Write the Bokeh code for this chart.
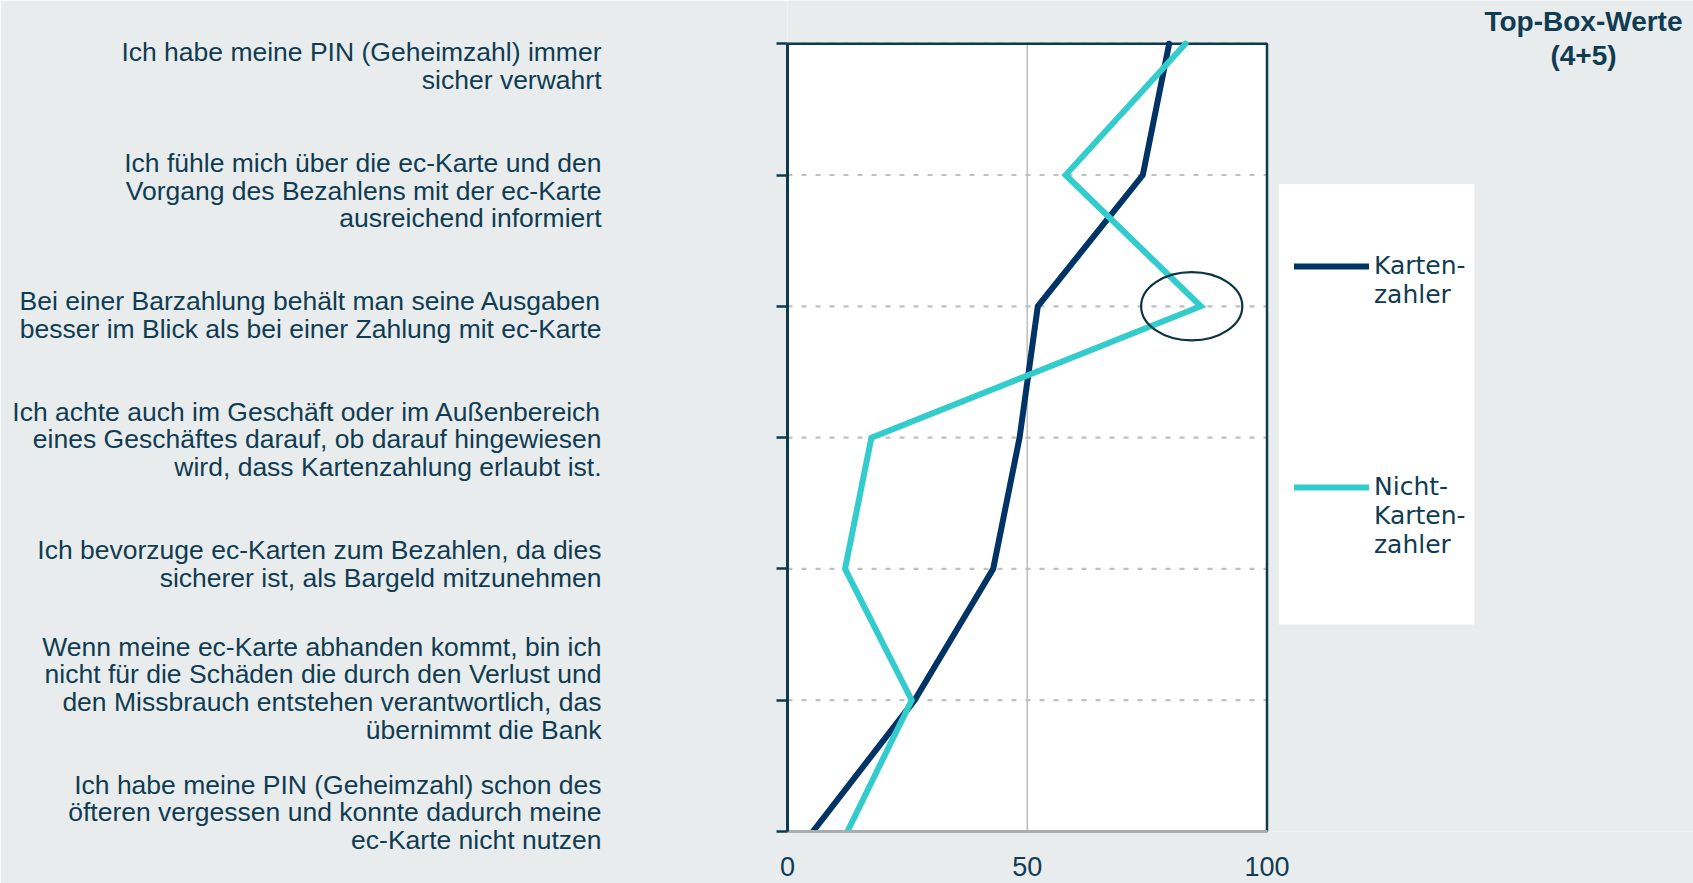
from bokeh.plotting import figure
from bokeh.models import (Range1d, FixedTicker, LinearAxis, Legend, LegendItem,
                          Label, BoxAnnotation)
from bokeh.embed import file_html
from bokeh.resources import INLINE

# ---------------- data ----------------
categories = [
    "Ich habe meine PIN (Geheimzahl) immer\nsicher verwahrt",
    "Ich fühle mich über die ec-Karte und den\nVorgang des Bezahlens mit der ec-Karte\nausreichend informiert",
    "Bei einer Barzahlung behält man seine Ausgaben\nbesser im Blick als bei einer Zahlung mit ec-Karte",
    "Ich achte auch im Geschäft oder im Außenbereich\neines Geschäftes darauf, ob darauf hingewiesen\nwird, dass Kartenzahlung erlaubt ist.",
    "Ich bevorzuge ec-Karten zum Bezahlen, da dies\nsicherer ist, als Bargeld mitzunehmen",
    "Wenn meine ec-Karte abhanden kommt, bin ich\nnicht für die Schäden die durch den Verlust und\nden Missbrauch entstehen verantwortlich, das\nübernimmt die Bank",
    "Ich habe meine PIN (Geheimzahl) schon des\nöfteren vergessen und konnte dadurch meine\nec-Karte nicht nutzen",
]
kartenzahler = [79.6, 74.1, 52.2, 48.4, 42.9, 26.5, 5.3]
nicht_kartenzahler = [83.0, 58.0, 86.2, 17.5, 12.0, 25.9, 12.5]
series_names = ["Karten-\nzahler", "Nicht-\nKarten-\nzahler"]
x_ticks = [0, 50, 100]
title_text = "Top-Box-Werte\n(4+5)"

# ---------------- style ----------------
BG = "#e9eced"
TEXT = "#0f3c52"
DARK = "#003366"
CYAN = "#33cccc"
AXIS = "#0d3a4d"
GRID = "#c0c0c0"

n = len(categories)
ypos = [n - 1 - i for i in range(n)]
xmin, xmax = x_ticks[0], x_ticks[-1]

W, H = 1693, 883
ML, MB = 787, 52
# frame extends to the right/top edges so that legend and title can live inside it
p = figure(width=W, height=H,
           x_range=Range1d(0, 100 * (W - ML) / 479.5),
           y_range=Range1d(0, (n - 1) * (H - MB) / 787.8),
           output_backend="svg", toolbar_location=None,
           min_border_left=ML, min_border_right=0,
           min_border_top=0, min_border_bottom=MB)
p.background_fill_color = BG
p.border_fill_color = BG
p.outline_line_color = None
p.xgrid.visible = False
p.ygrid.visible = False

# white plot area
p.add_layout(BoxAnnotation(left=xmin, right=xmax, bottom=0, top=n - 1,
                           fill_color="white", fill_alpha=1.0, line_color=None,
                           level="image"))

# grid lines
g1 = p.segment(x0=[xmin] * n, x1=[xmax] * n, y0=ypos, y1=ypos,
               line_color=GRID, line_width=2.2, line_dash="5 9")
g2 = p.segment(x0=[x_ticks[1]], x1=[x_ticks[1]], y0=[0], y1=[n - 1],
               line_color=GRID, line_width=1.6)
g1.level = "underlay"
g2.level = "underlay"

# plot area border (top / right / left); the bottom edge is covered by the x axis
p.add_layout(BoxAnnotation(left=xmin, right=xmax, bottom=0, top=n - 1,
                           fill_alpha=0, line_color=AXIS, line_alpha=1.0,
                           line_width=2.5, level="underlay"))

# x axis
xa = p.xaxis[0]
xa.ticker = FixedTicker(ticks=x_ticks)
xa.bounds = (xmin, xmax)
xa.axis_line_color = "#a9adb0"
xa.axis_line_width = 3
xa.major_tick_line_color = None
xa.minor_tick_line_color = None
xa.major_tick_in = 0
xa.major_tick_out = 0
xa.major_label_standoff = 25
xa.major_label_text_font = "Liberation Sans"
xa.major_label_text_font_size = "27px"
xa.major_label_text_color = TEXT

# main y axis (ticks only)
ya = p.yaxis[0]
ya.ticker = FixedTicker(ticks=list(range(n)))
ya.bounds = (0, n - 1)
ya.axis_line_color = AXIS
ya.axis_line_width = 3
ya.major_tick_line_color = AXIS
ya.major_tick_line_width = 2.5
ya.major_tick_in = 0
ya.major_tick_out = 11
ya.minor_tick_line_color = None
ya.major_label_overrides = {i: "" for i in range(n)}
ya.major_label_standoff = 0

# category label axis
p.extra_y_ranges = {"labels": Range1d(-0.153, 6.529)}
la = LinearAxis(y_range_name="labels", ticker=FixedTicker(ticks=list(range(n))))
la.axis_line_color = None
la.major_tick_line_color = None
la.minor_tick_line_color = None
la.major_tick_in = 0
la.major_tick_out = 0
la.major_label_standoff = 175
la.major_label_overrides = {ypos[i]: categories[i] for i in range(n)}
la.major_label_text_font = "Liberation Sans"
la.major_label_text_font_size = "26.5px"
la.major_label_text_color = TEXT
la.major_label_text_line_height = 0.92
p.add_layout(la, "left")

# lines
r1 = p.line(kartenzahler, ypos, line_color=DARK, line_width=6,
            line_cap="round", line_join="miter")
r2 = p.line(nicht_kartenzahler, ypos, line_color=CYAN, line_width=6,
            line_cap="round", line_join="miter")

# highlight ellipse around the Nicht-Kartenzahler peak
p.ellipse(x=[84.3], y=[ypos[2]], width=21.1, height=0.52,
          fill_color=None, line_color="#0b3344", line_width=2.2)

# legend background box
p.add_layout(BoxAnnotation(left=102.48, right=143.24, top=4.931, bottom=1.577,
                           fill_color="white", fill_alpha=1.0, line_color=None,
                           level="underlay"))

# legend: glyph sits beside the first text line (blank lines above balance the block)
legend_labels = []
for name in series_names:
    k = name.count("\n")
    legend_labels.append("\n" * k + name)
legend = Legend(items=[LegendItem(label=legend_labels[0], renderers=[r1]),
                       LegendItem(label=legend_labels[1], renderers=[r2])],
                location=(507, 272), orientation="vertical")
legend.background_fill_alpha = 0
legend.border_line_color = None
legend.padding = 0
legend.margin = 0
legend.spacing = 105
legend.glyph_width = 75
legend.glyph_height = 20
legend.label_standoff = 5
legend.label_text_font = "DejaVu Sans"
legend.label_text_font_size = "25px"
legend.label_text_color = TEXT
legend.label_text_line_height = 1.32
p.add_layout(legend)

# title at top right
p.add_layout(Label(x=166.0, y=6.285, text=title_text, text_align="center",
                   text_baseline="top", text_font="Liberation Sans",
                   text_font_style="bold", text_font_size="28px",
                   text_color=TEXT, text_line_height=1.08))

open("out.html", "w").write(file_html(p, INLINE))
